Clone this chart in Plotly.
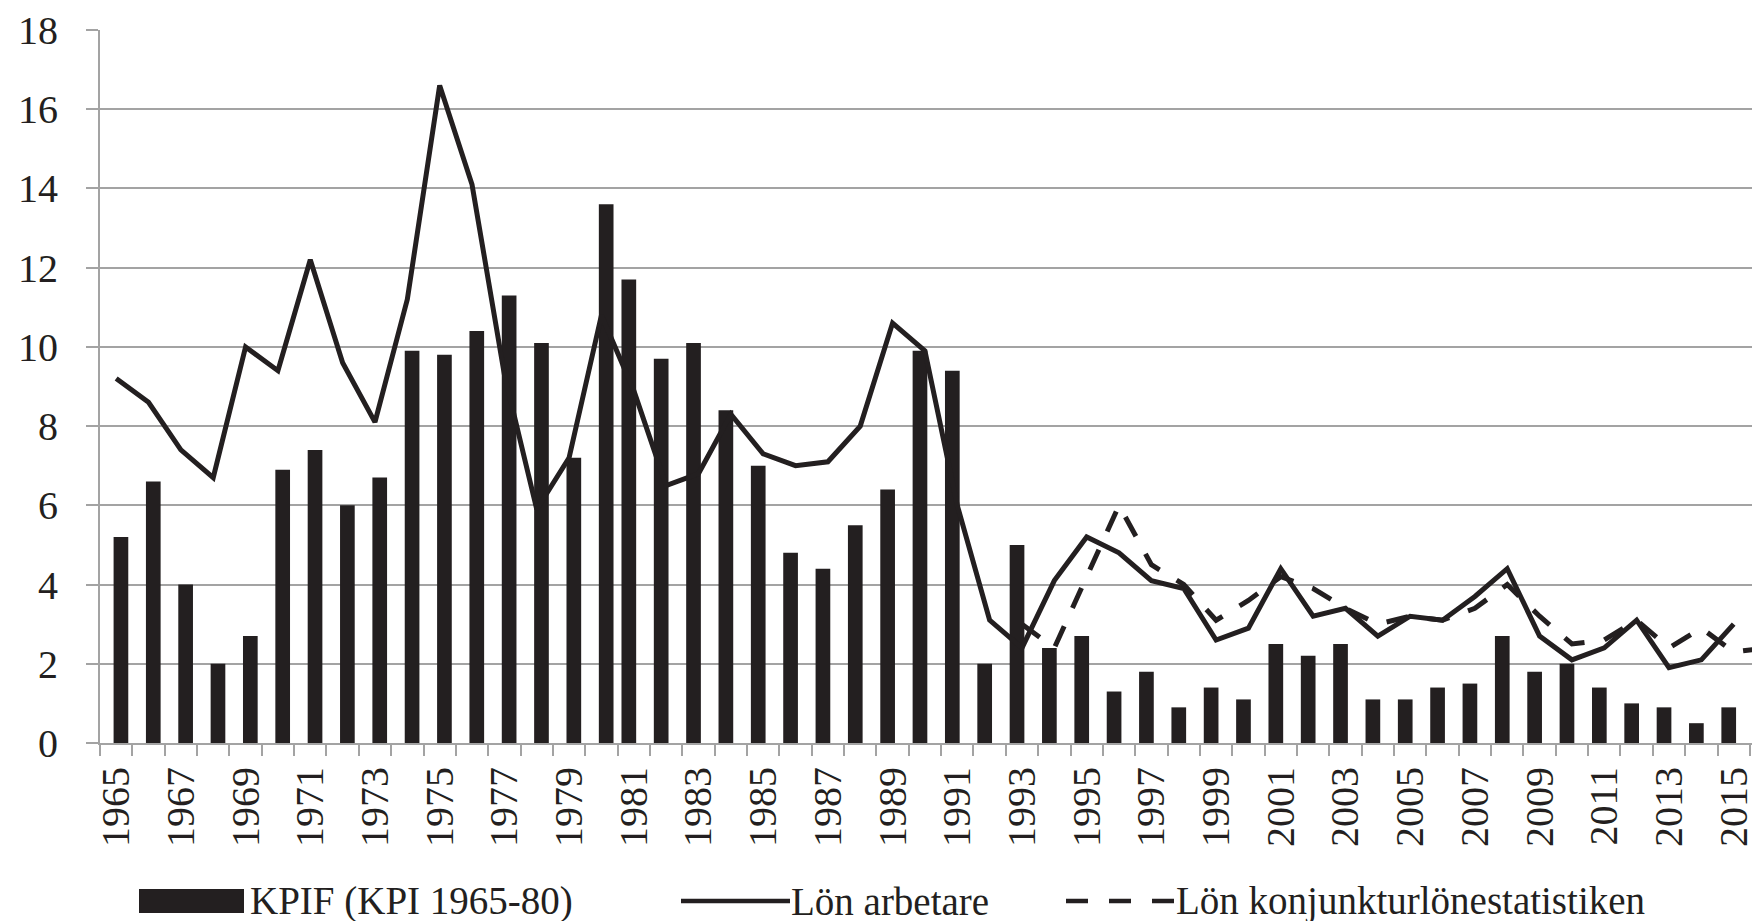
import plotly.graph_objects as go

# ---------------- data ----------------
kpi_years = list(range(1965, 1981))
kpi_vals = [5.2, 6.6, 4.0, 2.0, 2.7, 6.9, 7.4, 6.0, 6.7, 9.9, 9.8, 10.4, 11.3, 10.1, 7.2, 13.6]

kpif_years = list(range(1981, 2017))
kpif_vals = [11.7, 9.7, 10.1, 8.4, 7.0, 4.8, 4.4, 5.5, 6.4, 9.9,
             9.4, 2.0, 5.0, 2.4, 2.7, 1.3, 1.8, 0.9, 1.4, 1.1,
             2.5, 2.2, 2.5, 1.1, 1.1, 1.4, 1.5, 2.7, 1.8, 2.0,
             1.4, 1.0, 0.9, 0.5, 0.9, 1.4]

lon_years = list(range(1965, 2016))
lon_vals = [9.2, 8.6, 7.4, 6.7, 10.0, 9.4, 12.2, 9.6, 8.1, 11.2,
            16.6, 14.1, 9.3, 5.9, 7.2, 10.8, 8.9, 6.5, 6.8, 8.3,
            7.3, 7.0, 7.1, 8.0, 10.6, 9.9, 6.0, 3.1, 2.4, 4.1,
            5.2, 4.8, 4.1, 3.9, 2.6, 2.9, 4.4, 3.2, 3.4, 2.7,
            3.2, 3.1, 3.7, 4.4, 2.7, 2.1, 2.4, 3.1, 1.9, 2.1, 3.0]

konj_years = list(range(1993, 2017))
konj_vals = [3.0, 2.4, 4.2, 6.0, 4.5, 4.0, 3.1, 3.6, 4.2, 3.9,
             3.4, 3.0, 3.2, 3.1, 3.4, 4.0, 3.2, 2.5, 2.6, 3.1,
             2.4, 2.9, 2.3, 2.4]

tick_years = list(range(1965, 2016, 2))
tick_labels = [str(y) for y in tick_years]
boundary_ticks = [y - 0.5 for y in range(1965, 2017)]

legend_labels = ["KPIF (KPI 1965-80)", "Lön arbetare", "Lön konjunkturlönestatistiken"]

# ---------------- style ----------------
INK = "#231f20"
GRID = "#a3a3a3"
FONT = "Liberation Serif"
W, H = 1760, 921
ML, MR, MT, MB = 92, 0, 22, 186
PW, PH = W - ML - MR, H - MT - MB
YEAR_PX = 32.35

fig = go.Figure()
fig.add_trace(go.Bar(x=kpi_years, y=kpi_vals, width=0.454, offset=-0.08,
                     marker=dict(color=INK, line=dict(width=0)),
                     name=legend_labels[0], showlegend=False))
fig.add_trace(go.Bar(x=kpif_years, y=kpif_vals, width=0.454, offset=-0.38,
                     marker=dict(color=INK, line=dict(width=0)),
                     name=legend_labels[0], showlegend=False))
fig.add_trace(go.Scatter(x=lon_years, y=lon_vals, mode="lines",
                         line=dict(color=INK, width=5),
                         name=legend_labels[1], showlegend=False))
fig.add_trace(go.Scatter(x=konj_years, y=konj_vals, mode="lines",
                         line=dict(color=INK, width=5, dash="22px,20px"),
                         name=legend_labels[2], showlegend=False))

tickfont = dict(family=FONT, size=40, color=INK)

fig.update_layout(
    width=W, height=H,
    margin=dict(l=ML, r=MR, t=MT, b=MB, pad=0),
    paper_bgcolor="white", plot_bgcolor="white",
    barmode="overlay",
    showlegend=False,
    xaxis=dict(
        range=[1964.5, 1964.5 + PW / YEAR_PX],
        tickmode="array", tickvals=tick_years, ticktext=tick_labels,
        tickangle=-90, ticks="", showgrid=False, zeroline=False,
        showline=True, linecolor=GRID, linewidth=2,
        tickfont=tickfont, ticklabelstandoff=6,
        minor=dict(tickmode="array", tickvals=boundary_ticks, ticks="outside",
                   ticklen=11, tickcolor=GRID, tickwidth=2, showgrid=False),
    ),
    yaxis=dict(
        range=[0, 18], tickmode="linear", tick0=0, dtick=2,
        showgrid=True, gridcolor=GRID, gridwidth=2, zeroline=False,
        showline=True, linecolor=GRID, linewidth=2,
        ticks="outside", ticklen=12, tickcolor=GRID, tickwidth=2,
        tickfont=tickfont, ticklabelstandoff=20,
    ),
)

# ---------------- manual legend ----------------
def px_x(x):
    return (x - ML) / PW

def px_y(y):
    return (H - MB - y) / PH

ly = 893
shapes = [
    dict(type="rect", xref="paper", yref="paper",
         x0=px_x(131), x1=px_x(236), y0=px_y(905), y1=px_y(881),
         fillcolor=INK, line=dict(width=0)),
    dict(type="line", xref="paper", yref="paper",
         x0=px_x(673), x1=px_x(782), y0=px_y(ly), y1=px_y(ly),
         line=dict(color=INK, width=4.5)),
    dict(type="line", xref="paper", yref="paper",
         x0=px_x(1058), x1=px_x(1167), y0=px_y(ly), y1=px_y(ly),
         line=dict(color=INK, width=4.5, dash="22px,21px")),
]
fig.update_layout(shapes=shapes)

for label, x in zip(legend_labels, [241, 782, 1167]):
    fig.add_annotation(text=label, xref="paper", yref="paper",
                       x=px_x(x), y=px_y(893), xanchor="left", yanchor="middle",
                       showarrow=False, borderpad=0,
                       font=dict(family=FONT, size=39, color=INK))

fig.write_html("out.html")
